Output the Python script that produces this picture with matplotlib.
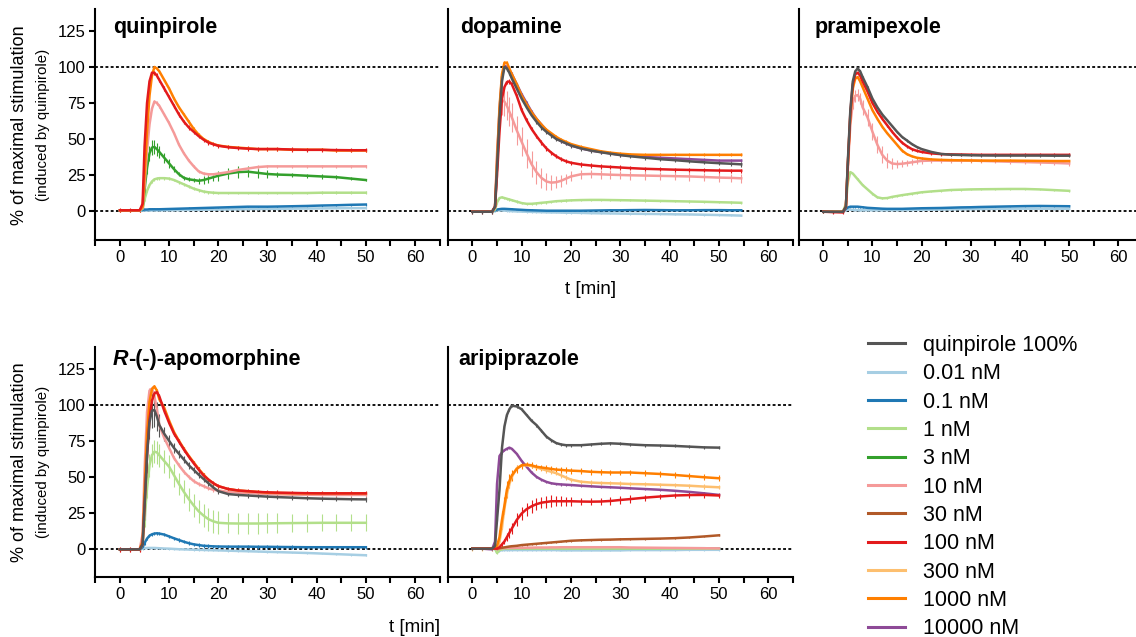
import matplotlib
matplotlib.use('Agg')
import matplotlib.pyplot as plt
from matplotlib.lines import Line2D
from matplotlib.ticker import MultipleLocator

plt.rcParams['font.family'] = ['Liberation Sans', 'DejaVu Sans']

# time points [min]
t = [0, 2, 4, 4.6, 5, 5.5, 6, 6.5, 7, 7.5, 8, 9, 10, 11, 12, 13, 14, 15, 16, 17,
     18, 19, 20, 22, 24, 26, 28, 30, 32, 35, 38, 41, 44, 47, 50]
t_da = t + [52.5, 54.5]

labels = ['quinpirole 100%', '0.01 nM', '0.1 nM', '1 nM', '3 nM', '10 nM',
          '30 nM', '100 nM', '300 nM', '1000 nM', '10000 nM']
colors = ['#555555', '#a6cee3', '#1f78b4', '#b2df8a', '#33a02c', '#f59a99',
          '#b15928', '#e31a1c', '#fdbf6f', '#ff7f00', '#8e4a97']
# order in which the curves are drawn (last = on top)
draw_order = ['10000 nM', '0.01 nM', '0.1 nM', '1 nM', '3 nM', '10 nM', '30 nM',
              '300 nM', '1000 nM', '100 nM', 'quinpirole 100%']

# ---- quinpirole
quin_y = {
    '1000 nM': [0.5, 0.5, 0.5, 3, 25, 55, 80, 94, 100, 99, 97, 91, 85, 78, 72, 67, 62, 57, 53, 50,
                48, 46.5, 45.5, 44.5, 44, 43.5, 43, 43, 43, 42.5, 42.5, 42.5, 42, 42, 42],
    '100 nM': [0.5, 0.5, 0.5, 5, 45, 75, 90, 96, 96, 94, 91, 85, 79, 73, 67, 62, 58, 55, 52, 49.5,
               47.5, 46.3, 45.3, 44.3, 43.7, 43.3, 43, 43, 43, 42.7, 42.5, 42.5, 42.3, 42.2, 42.2],
    '10 nM': [0.5, 0.5, 0.5, 2, 18, 42, 60, 71, 76, 75, 73, 67, 61, 54, 46, 40, 35, 31, 27.5, 26,
              25.5, 25.5, 26, 27, 28.5, 29.5, 30.5, 31, 31, 31, 31, 31, 31, 31, 31],
    '3 nM': [0.5, 0.5, 0.5, 2, 15, 30, 40, 44, 44.5, 43, 41, 37, 33, 29, 25.5, 23, 22, 21.5, 21, 21.5,
             22.5, 23.5, 24.5, 26, 27, 27.3, 26.5, 25.7, 25.3, 25, 24.5, 24, 23.5, 22.5, 21.5],
    '1 nM': [0.5, 0.5, 0.5, 1.5, 8, 14, 18, 20.5, 22, 22.5, 22.8, 22.8, 22.5, 21.5, 20, 18.5, 17, 15.5,
             14.5, 13.5, 13, 12.7, 12.5, 12.5, 12.5, 12.5, 12.5, 12.5, 12.5, 12.5, 12.5, 12.7, 12.7, 12.7, 12.7],
    '0.1 nM': [0.5, 0.5, 0.5, 0.8, 1, 1, 1.2, 1.2, 1.2, 1.2, 1.2, 1.3, 1.4, 1.5, 1.6, 1.7, 1.8, 1.9, 2,
               2.1, 2.2, 2.3, 2.4, 2.6, 2.8, 3, 3, 3, 3.1, 3.3, 3.5, 3.8, 4, 4.3, 4.5],
    '0.01 nM': [0.5, 0.3, 0.3, 0.3, 0.3, 0.3, 0.3, 0.4, 0.4, 0.4, 0.4, 0.5, 0.5, 0.6, 0.6, 0.7, 0.7, 0.8,
                0.8, 0.9, 0.9, 1, 1, 1.1, 1.2, 1.3, 1.4, 1.5, 1.5, 1.6, 1.7, 1.8, 1.9, 2, 2],
}
quin_err = {'1000 nM': 1, '100 nM': 1.5, '10 nM': 1.2, '1 nM': 1, '0.1 nM': 0.7, '0.01 nM': 0.5,
            '3 nM': [0.5, 0.5, 0.5, 1, 3, 4, 5, 5, 5, 4.5, 4, 3.5, 3, 2, 1.5, 1.5, 1.5, 1.5, 2, 2.5,
                     3, 3, 3.5, 4, 4, 4, 3.5, 2.5, 2, 1.5, 1.5, 1.5, 1.5, 1, 1]}

# ---- dopamine
da_y = {
    'quinpirole 100%': [-0.5, -0.5, -0.5, 3, 30, 65, 90, 100, 99, 96, 92, 85, 78, 72, 66.5, 62, 58, 55,
                        52.5, 50, 48.5, 47, 45.5, 43.5, 42, 40.8, 39.8, 38.8, 38, 37, 36, 35.3, 34.5,
                        33.8, 33.2, 32.8, 32.4],
    '1000 nM': [-0.5, -0.5, -0.5, 3, 35, 72, 95, 103, 103, 99, 95, 88, 80, 74, 68.5, 64, 60, 56.5, 54,
                51.5, 49.5, 48, 46.5, 44.5, 43, 41.5, 40.5, 39.8, 39.3, 39, 39, 39, 39, 39, 39, 39, 39],
    '10000 nM': [-0.5, -0.5, -0.5, 3, 32, 70, 93, 101, 100, 98, 95, 88, 81, 75, 69, 64, 60, 56, 53,
                 50.5, 48.5, 47, 45.5, 43.5, 42, 41, 40, 39, 38.5, 37.5, 37, 36.5, 36, 35.5, 35, 35, 35],
    '100 nM': [-0.5, -0.5, -0.5, 3, 25, 55, 78, 86, 89.5, 90, 88, 80, 70, 63, 57, 52, 47.5, 43.5, 40.5,
               38, 36, 34.5, 33.5, 32.3, 31.6, 31, 30.6, 30.2, 29.8, 29.3, 29, 28.7, 28.5, 28.3, 28.1, 28, 28],
    '10 nM': [-0.5, -0.5, -0.5, 3, 40, 68, 77, 76, 73, 69, 65, 56, 48, 40, 32.5, 27, 23, 20.5, 19.7, 20,
              21, 22.5, 24, 25.5, 25.7, 25.5, 25.2, 25, 24.8, 24.6, 24.4, 24.2, 24, 23.6, 23.2, 23, 22.7],
    '1 nM': [-0.5, -0.5, -0.5, 1, 6, 9, 9.5, 9, 8.5, 8, 7.5, 6.5, 5.5, 5, 5, 5.3, 5.7, 6, 6.4, 6.8, 7,
             7.2, 7.4, 7.6, 7.7, 7.7, 7.6, 7.5, 7.4, 7.2, 7, 6.8, 6.6, 6.4, 6.1, 5.9, 5.7],
    '0.1 nM': [-0.5, -0.5, -0.5, 0.5, 1, 1.3, 1.5, 1.5, 1.4, 1.3, 1.2, 1, 0.8, 0.6, 0.5, 0.4, 0.3, 0.2,
               0.2, 0.2, 0.2, 0.2, 0.2, 0.2, 0.3, 0.4, 0.5, 0.5, 0.6, 0.7, 0.6, 0.5, 0.5, 0.6, 0.6, 0.5, 0.5],
    '0.01 nM': [-0.5, -0.5, -0.5, 0, 0.5, 0.5, 0.4, 0.3, 0.2, 0, -0.1, -0.3, -0.4, -0.5, -0.6, -0.7,
                -0.8, -0.9, -1, -1, -1.1, -1.2, -1.2, -1.3, -1.5, -1.6, -1.7, -1.8, -1.9, -2, -2.1,
                -2.3, -2.4, -2.6, -2.8, -3, -3.2],
}
da_err = {'quinpirole 100%': 1.5, '1000 nM': 1, '10000 nM': 1.2, '100 nM': 1.5, '1 nM': 0.8,
          '0.1 nM': 0.6, '0.01 nM': 0.6,
          '10 nM': [0.5, 0.5, 0.5, 2, 6, 9, 10, 10, 10, 10, 10, 10, 10, 10, 9, 8, 7, 6, 5, 4, 4, 3.5,
                    3.5, 3, 3, 3, 3, 3, 3, 3, 3, 3, 3, 3, 3, 3, 3]}

# ---- pramipexole
pr_y = {
    'quinpirole 100%': [-0.5, -0.5, -0.5, 3, 35, 70, 90, 97, 99, 97, 93, 86, 78, 72, 67, 63, 59, 55,
                        51.5, 49, 46.5, 44.5, 43, 41, 39.6, 39.1, 38.9, 38.7, 38.6, 38.5, 38.5, 38.5,
                        38.5, 38.4, 38.4],
    '100 nM': [-0.5, -0.8, -1, 3, 33, 68, 88, 95, 96, 94, 90, 83, 75, 69, 64, 59.5, 55, 51, 47.5, 45,
               43, 41.8, 41, 40, 39.5, 39.3, 39.2, 39.1, 39, 39, 39, 39, 39, 39, 39],
    '1000 nM': [-0.5, -0.5, -0.5, 3, 33, 66, 85, 92, 93, 90, 86, 78, 70, 64, 58.5, 54, 50, 46, 42,
                39.5, 38, 37, 36.5, 35.8, 35.5, 35.3, 35.2, 35.1, 35, 35, 35, 34.9, 34.8, 34.7, 34.7],
    '10 nM': [-0.5, -0.5, -0.5, 3, 30, 60, 75, 80, 80.5, 78, 72, 65, 55, 46, 39, 35, 33, 32.6, 32.8,
              33.3, 33.8, 34.3, 34.8, 35, 35, 35, 35, 35, 34.8, 34.5, 34.2, 34, 33.7, 33.4, 33],
    '1 nM': [-0.5, -0.5, -0.5, 5, 20, 27, 26, 24, 22, 20, 18, 15, 12, 9.5, 8.8, 9, 9.8, 10.4, 11, 11.5,
             12, 12.5, 13, 13.6, 14.1, 14.6, 14.8, 15, 15.1, 15.2, 15.3, 15.3, 15, 14.5, 14],
    '0.1 nM': [-0.5, -0.5, -0.5, 1.5, 2.5, 3, 3, 3, 3, 2.8, 2.6, 2.2, 2, 1.8, 1.6, 1.5, 1.5, 1.5, 1.5,
               1.6, 1.7, 1.8, 1.9, 2, 2.1, 2.3, 2.5, 2.6, 2.8, 3, 3.2, 3.4, 3.5, 3.4, 3.3],
    '0.01 nM': [-0.5, -0.5, -0.5, 0.5, 1, 1, 0.8, 0.7, 0.6, 0.5, 0.5, 0.5, 0.5, 0.5, 0.5, 0.5, 0.6,
                0.6, 0.6, 0.7, 0.7, 0.8, 0.8, 0.9, 1, 1.1, 1.2, 1.3, 1.4, 1.5, 1.6, 1.6, 1.6, 1.5, 1.5],
}
pr_err = {'quinpirole 100%': 0.8, '100 nM': 1, '1000 nM': 0.8, '1 nM': 0.6, '0.1 nM': 0.6,
          '0.01 nM': 0.5,
          '10 nM': [0.5, 0.5, 0.5, 1, 3, 4, 4, 4, 4, 4, 5, 6, 6, 6, 6, 5, 4, 3, 2.5, 2, 2, 2, 2, 1.5,
                    1.5, 1.5, 1.5, 1.5, 1.5, 1.5, 1.5, 1.5, 1.5, 1.5, 1.5]}

# ---- R-(-)-apomorphine
ap_y = {
    'quinpirole 100%': [-0.5, -0.5, -0.5, 3, 30, 65, 88, 96, 96.5, 92, 86, 80, 75, 70, 66, 62, 58,
                        54.8, 51.5, 48.5, 45.5, 42.5, 40, 38, 37.4, 37, 36.6, 36.2, 35.9, 35.5, 35.1,
                        34.8, 34.6, 34.4, 34.3],
    '1000 nM': [-0.5, -0.5, -0.5, 5, 40, 80, 102, 111, 113, 110, 104, 98, 89, 81, 75, 69.5, 64.5, 60,
                55.5, 51.5, 48, 45.5, 43.5, 41.5, 40.5, 40, 39.5, 39, 38.8, 38.6, 38.5, 38.5, 38.5,
                38.5, 38.5],
    '100 nM': [-0.5, -0.5, -0.5, 3, 30, 65, 90, 103, 108, 109, 106, 96, 87.5, 80, 74.5, 69, 64, 59.4,
               55, 51, 48, 45.5, 43.5, 41.5, 40.5, 40, 39.5, 39.2, 39, 38.8, 38.6, 38.5, 38.5, 38.5, 38.5],
    '10 nM': [-0.5, -0.5, -0.5, 10, 55, 95, 110, 111.5, 106, 97, 86, 77, 70, 63, 58, 53.5, 50, 47, 45,
              43.5, 42, 41, 40.5, 39.5, 39, 38.7, 38.4, 38, 37.8, 37.6, 37.5, 37.4, 37.4, 37.4, 37.4],
    '1 nM': [-0.5, -0.5, -0.5, 3, 20, 42, 58, 65, 67.5, 67, 65, 61, 57, 51, 45, 39.5, 34.5, 30, 26, 23,
             20.5, 19, 18, 17.6, 17.5, 17.5, 17.5, 17.6, 17.7, 17.8, 17.9, 18, 18, 18, 18],
    '0.1 nM': [-0.5, -0.5, -0.5, 1, 4, 7, 9, 10, 10.5, 10.7, 10.5, 9.8, 8.5, 7.2, 6, 4.8, 3.8, 3, 2.5,
               2, 1.8, 1.6, 1.5, 1.4, 1.4, 1.4, 1.3, 1.3, 1.2, 1.1, 1, 1, 1, 1, 1],
    '0.01 nM': [-0.5, -0.5, -0.5, 0, 0.3, 0.5, 0.5, 0.5, 0.5, 0.4, 0.3, 0.1, 0, -0.2, -0.4, -0.5,
                -0.6, -0.7, -0.8, -0.9, -1, -1.1, -1.2, -1.4, -1.6, -1.8, -2, -2.2, -2.4, -2.7, -3,
                -3.4, -3.8, -4.2, -4.6],
}
ap_err = {'1000 nM': 1, '100 nM': 1.5, '10 nM': 1.5, '0.1 nM': 1.2, '0.01 nM': 0.6,
          'quinpirole 100%': [0.5, 0.5, 0.5, 3, 10, 12, 12, 12, 12, 10, 8, 5, 4, 3.5, 3, 2.5, 2.5, 2,
                              2, 2, 2, 2, 2, 1.5, 1.5, 1.5, 1.5, 1.5, 1.5, 1.5, 1.5, 1.5, 1.5, 1.5, 1.5],
          '1 nM': [0.5, 0.5, 0.5, 2, 5, 7, 8, 8, 8, 8, 8, 8, 8, 8, 8, 8, 8, 8, 8, 8, 8, 8, 8, 7, 7, 7,
                   7, 7, 7, 6, 6, 6, 6, 6, 6]}

# ---- aripiprazole
ar_y = {
    'quinpirole 100%': [0, 0, 0, 2, 20, 41, 70, 85, 93, 97, 99.5, 99, 97, 93, 89, 86, 82, 78, 75.5,
                        73.5, 72.5, 72, 72, 72, 72.5, 73, 73.3, 73, 72.5, 72, 71.8, 71.5, 71, 70.5, 70.3],
    '10000 nM': [0, 0, -0.5, 5, 45, 64.5, 67, 68.5, 69.5, 70.3, 69.5, 66, 61, 57, 53, 50, 48, 46.5,
                 45.5, 45, 44.7, 44.5, 44.3, 43.8, 43.4, 43, 42.7, 42.4, 42, 41.5, 41, 40.3, 39.5, 38.5, 37.4],
    '1000 nM': [0, 0, 0, 0.5, 2, 8, 20, 30, 41, 47, 51, 55.5, 58, 58.5, 58, 57, 56.5, 56, 55.5, 55,
                54.8, 54.5, 54.3, 54, 53.5, 53.2, 53, 53, 53, 52.5, 52, 51.3, 50.5, 49.7, 49],
    '300 nM': [0, 0, 0, 0.3, 1, 5, 15, 28, 38, 45, 50, 56, 58, 58, 57.5, 56.5, 55.5, 54.5, 53.5, 52.5,
               51, 49.5, 48, 46.6, 46, 45.7, 45.5, 45.3, 45, 44.8, 44.5, 44.2, 43.8, 43.2, 42.7],
    '100 nM': [0, 0, 0, 0, 0, 1, 3, 5, 8, 11, 14, 20, 24.5, 27.5, 29.5, 31, 32, 32.5, 33, 33, 33, 33,
               33, 32.8, 32.7, 32.8, 33.2, 33.9, 34.5, 35.5, 36.3, 37, 37.3, 37.4, 37],
    '30 nM': [0, 0, 0, 0, 0, 0.3, 0.6, 0.9, 1.2, 1.5, 1.7, 2, 2.5, 2.8, 3.1, 3.4, 3.7, 4, 4.3, 4.6,
              4.9, 5.2, 5.5, 5.8, 6, 6.2, 6.3, 6.5, 6.6, 6.8, 7, 7.3, 7.8, 8.5, 9.3],
    '10 nM': [0, 0, 0, 0, -0.5, 0, 0.3, 0.5, 0.5, 0.5, 0.5, 0.6, 0.6, 0.7, 0.7, 0.8, 0.8, 0.8, 0.9,
              0.9, 1, 1, 1, 1, 1, 1, 1, 1, 0.8, 0.7, 0.6, 0.5, 0.4, 0.3, 0.2],
    '1 nM': [0, 0, 0, 0, -3, -1, -0.5, 0, 0, 0, 0, 0, 0, 0, 0, 0, 0, 0, 0, 0, 0, 0, 0, 0, 0, 0, 0,
             0, 0, 0, 0, 0, 0, 0, 0],
    '0.1 nM': [0, 0, 0, 0, -1, -0.5, 0, 0, 0, 0, 0, 0, 0, 0, 0.1, 0.1, 0.1, 0.2, 0.2, 0.2, 0.2, 0.2,
               0.2, 0.2, 0.2, 0.1, 0, 0, 0, 0.1, 0.2, 0.3, 0.3, 0.3, 0.2],
    '0.01 nM': [0, 0, 0, 0, -2.5, -1.5, -1, -1, -1, -1, -1, -1, -1, -1, -1, -1, -1, -1, -1, -1, -1.2,
                -1.2, -1.2, -1.2, -1.2, -1.2, -1.2, -1.2, -1, -1, -1, -1, -0.8, -0.8, -0.8],
}
ar_err = {'quinpirole 100%': 1, '10000 nM': 0.8, '300 nM': 1.5, '30 nM': 0.6, '10 nM': 0.5,
          '1 nM': 0.5, '0.1 nM': 0.5, '0.01 nM': 0.5,
          '1000 nM': [0.3, 0.3, 0.3, 1, 3, 5, 6, 6, 6, 5, 4, 3, 2.5, 2, 2, 2, 2, 2, 2, 2, 2, 2, 2, 2,
                      2, 2, 2, 2, 2, 2, 2, 2, 2, 2, 2],
          '100 nM': [0.3, 0.3, 0.3, 0.5, 0.5, 1, 1.5, 2, 3, 3.5, 4, 4.5, 4.5, 4.5, 4.5, 4, 4, 4, 4,
                     3.5, 3.5, 3, 3, 2.5, 2.5, 2.5, 2.5, 2.5, 2.5, 2, 2, 2, 2, 2, 2]}

col = dict(zip(labels, colors))
W, H = 1136, 637
fig = plt.figure(figsize=(W / 100, H / 100), dpi=100)


def panel(x0, x1, ytop, ybot):
    return fig.add_axes([x0 / W, 1 - ybot / H, (x1 - x0) / W, (ybot - ytop) / H])


def draw(ax, tt, ys, errs, title, ylab, ty):
    for lab in draw_order:
        if lab not in ys:
            continue
        ax.errorbar(tt, ys[lab], yerr=errs[lab], color=col[lab], lw=1.8,
                    elinewidth=0.8, capsize=0)
    ax.axhline(0, color='k', lw=1.3, ls=(0, (1.6, 1.3)), zorder=0)
    ax.axhline(100, color='k', lw=1.3, ls=(0, (1.6, 1.3)), zorder=0)
    ax.set_xlim(-5, 65)
    ax.set_ylim(-20, 140)
    ax.xaxis.set_major_locator(MultipleLocator(10))
    ax.xaxis.set_minor_locator(MultipleLocator(5))
    for s in ['top', 'right']:
        ax.spines[s].set_visible(False)
    for s in ['left', 'bottom']:
        ax.spines[s].set_linewidth(1.5)
    ax.tick_params(which='both', direction='out', length=4, width=1.5, labelsize=12, pad=3)
    if ylab:
        ax.set_yticks([0, 25, 50, 75, 100, 125])
    else:
        ax.tick_params(axis='y', left=False, labelleft=False)
    if title is not None:
        ax.text(title[1], ty, title[0], transform=ax.transAxes, fontsize=15.5,
                fontweight='bold', va='center', ha='left')


top, bot = (9.4, 239.8), (347.5, 577.4)
ax1 = panel(95.4, 439.6, *top)
ax2 = panel(447.7, 793.0, *top)
ax3 = panel(798.7, 1142.9, *top)
ax4 = panel(95.4, 439.6, *bot)
ax5 = panel(447.7, 793.0, *bot)

draw(ax1, t, quin_y, quin_err, ('quinpirole', 0.051), True, 0.921)
draw(ax2, t_da, da_y, da_err, ('dopamine', 0.036), False, 0.921)
draw(ax3, t, pr_y, pr_err, ('pramipexole', 0.047), False, 0.921)
draw(ax4, t, ap_y, ap_err, None, True, 0.946)
draw(ax5, t, ar_y, ar_err, ('aripiprazole', 0.03), False, 0.946)

# R-(-)-apomorphine: italic R
r_txt = ax4.text(0.051, 0.946, 'R', transform=ax4.transAxes, fontsize=15.5,
                 fontweight='bold', fontstyle='italic', va='center', ha='left')
ax4.annotate('-(-)-apomorphine', xy=(1, 0.5), xycoords=r_txt, fontsize=15.5,
             fontweight='bold', va='center', ha='left')

# y labels
for yc in [125, 462]:
    fig.text(20 / W, 1 - yc / H, '% of maximal stimulation', rotation=90,
             fontsize=13, ha='center', va='center')
    fig.text(43 / W, 1 - yc / H, '(induced by quinpirole)', rotation=90,
             fontsize=10.8, ha='center', va='center')

fig.text(591 / W, 1 - 290 / H, 't [min]', fontsize=13.5, ha='center', va='center')
fig.text(440 / W, 1 - 627 / H, 't [min]', fontsize=13.5, ha='right', va='center')

handles = [Line2D([], [], color=c, lw=2.2) for c in colors]
fig.legend(handles, labels, loc='upper left', bbox_to_anchor=(868 / W, 1 - 335 / H),
           frameon=False, fontsize=15.5, handlelength=1.72, handletextpad=0.84,
           labelspacing=0.34, borderpad=0, borderaxespad=0)

fig.savefig('out.png', dpi=100)
